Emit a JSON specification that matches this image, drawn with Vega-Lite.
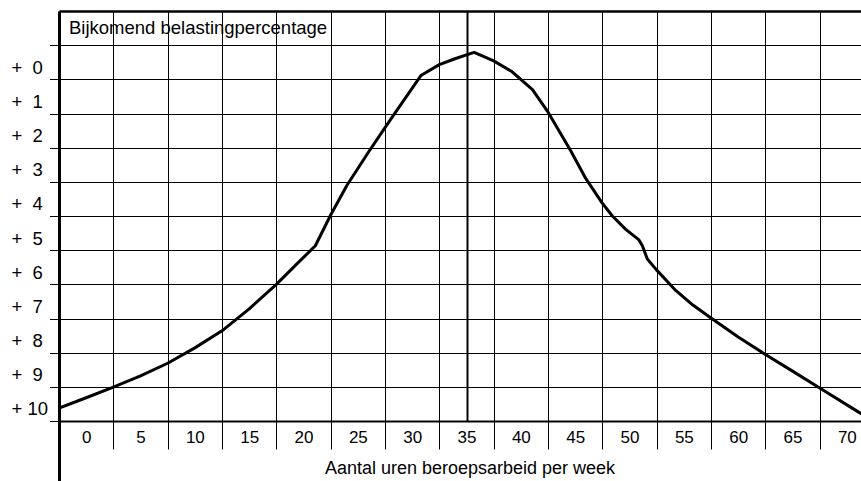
{
  "$schema": "https://vega.github.io/schema/vega-lite/v6.json",
  "autosize": {"type": "none"},
  "padding": {"left": 59, "top": 11, "right": 0, "bottom": 60},
  "width": 802,
  "height": 410,
  "background": "white",
  "config": {"view": {"stroke": null}},
  "title": {
    "text": "Bijkomend belastingpercentage",
    "anchor": "start",
    "frame": "group",
    "orient": "top",
    "offset": -27,
    "dx": 10,
    "dy": 18,
    "baseline": "alphabetic",
    "font": "Liberation Sans",
    "fontSize": 18.5,
    "fontWeight": "normal",
    "color": "black"
  },
  "data": {
    "values": [
      {"uren": -2.5, "pct": 10.12},
      {"uren": 0, "pct": 9.82},
      {"uren": 2.5, "pct": 9.51},
      {"uren": 5, "pct": 9.18},
      {"uren": 7.5, "pct": 8.81},
      {"uren": 10, "pct": 8.36},
      {"uren": 12.5, "pct": 7.86},
      {"uren": 15, "pct": 7.22},
      {"uren": 17.5, "pct": 6.5},
      {"uren": 19.3, "pct": 5.93},
      {"uren": 21.09, "pct": 5.37},
      {"uren": 22.5, "pct": 4.47},
      {"uren": 24.0, "pct": 3.6},
      {"uren": 26.0, "pct": 2.62},
      {"uren": 28.0, "pct": 1.68},
      {"uren": 30.8, "pct": 0.39},
      {"uren": 32.5, "pct": 0.07},
      {"uren": 34.0, "pct": -0.11},
      {"uren": 35.7, "pct": -0.29},
      {"uren": 37.5, "pct": -0.04},
      {"uren": 39.2, "pct": 0.28},
      {"uren": 41.07, "pct": 0.8},
      {"uren": 42.44, "pct": 1.43},
      {"uren": 44.6, "pct": 2.6},
      {"uren": 45.97, "pct": 3.4},
      {"uren": 47.44, "pct": 4.1},
      {"uren": 48.42, "pct": 4.5},
      {"uren": 49.65, "pct": 4.89},
      {"uren": 50.87, "pct": 5.2},
      {"uren": 51.18, "pct": 5.37},
      {"uren": 51.64, "pct": 5.76},
      {"uren": 52.46, "pct": 6.07},
      {"uren": 54.25, "pct": 6.68},
      {"uren": 55.8, "pct": 7.1},
      {"uren": 57.46, "pct": 7.48},
      {"uren": 60, "pct": 8.04},
      {"uren": 62.43, "pct": 8.54},
      {"uren": 65, "pct": 9.04},
      {"uren": 67.39, "pct": 9.51},
      {"uren": 71.08, "pct": 10.24},
      {"uren": 72, "pct": 10.42}
    ]
  },
  "mark": {"type": "line", "color": "black", "strokeWidth": 3, "clip": true, "strokeJoin": "round", "strokeCap": "round"},
  "encoding": {
    "x": {
      "field": "uren",
      "type": "quantitative",
      "scale": {"domain": [-2.5, 71.3], "nice": false, "zero": false},
      "axis": {
        "orient": "bottom",
        "title": "Aantal uren beroepsarbeid per week",
        "titleFont": "Liberation Sans",
        "titleFontSize": 18,
        "titleFontWeight": "normal",
        "titleColor": "black",
        "titleX": 410.5,
        "titleY": 52,
        "titleAlign": "center",
        "titleBaseline": "alphabetic",
        "values": [-2.5, 0, 2.5, 5, 7.5, 10, 12.5, 15, 17.5, 20, 22.5, 25, 27.5, 30, 32.5, 35, 37.5, 40, 42.5, 45, 47.5, 50, 52.5, 55, 57.5, 60, 62.5, 65, 67.5, 70],
        "labelExpr": "datum.value % 5 == 0 ? datum.label : ''",
        "labelFont": "Liberation Sans",
        "labelFontSize": 17,
        "labelColor": "black",
        "labelBaseline": "alphabetic",
        "labelPadding": -7,
        "labelFlush": false,
        "labelOverlap": false,
        "domainColor": "black",
        "domainWidth": 2,
        "grid": true,
        "gridColor": "black",
        "gridWidth": {"condition": {"test": "datum.value == 35", "value": 2}, "value": 1},
        "gridOpacity": {"condition": {"test": "datum.value % 5 == 0 && datum.value != 35", "value": 0}, "value": 1},
        "ticks": true,
        "tickColor": "black",
        "tickSize": {"condition": {"test": "datum.value == -2.5", "value": 60}, "value": 28},
        "tickWidth": {"condition": {"test": "datum.value == -2.5", "value": 3}, "value": 1},
        "tickOpacity": {"condition": {"test": "datum.value % 5 == 0", "value": 0}, "value": 1}
      }
    },
    "y": {
      "field": "pct",
      "type": "quantitative",
      "scale": {"domain": [-1.5, 10.5], "reverse": true, "nice": false, "zero": false},
      "axis": {
        "orient": "left",
        "title": null,
        "values": [-1.5, -0.5, 0, 0.5, 1, 1.5, 2, 2.5, 3, 3.5, 4, 4.5, 5, 5.5, 6, 6.5, 7, 7.5, 8, 8.5, 9, 9.5, 10, 10.5],
        "labelExpr": "datum.value % 1 == 0 ? '+ ' + (datum.value < 10 ? '\u2008' : '') + datum.value : ''",
        "labelFont": "Liberation Sans",
        "labelFontSize": 18.5,
        "labelColor": "black",
        "labelAlign": "left",
        "labelBaseline": "middle",
        "labelPadding": 38.5,
        "labelOffset": 5,
        "labelFlush": false,
        "labelOverlap": false,
        "domainColor": "black",
        "domainWidth": 3,
        "grid": true,
        "gridColor": "black",
        "gridWidth": {"condition": {"test": "datum.value == -1.5", "value": 2.5}, "value": 1},
        "gridOpacity": {"condition": {"test": "datum.value % 1 == 0", "value": 0}, "value": 1},
        "ticks": true,
        "tickColor": "black",
        "tickSize": 9.5,
        "tickWidth": 1,
        "tickOpacity": {"condition": {"test": "datum.value % 1 == 0 || datum.value == -1.5", "value": 0}, "value": 1}
      }
    }
  }
}
